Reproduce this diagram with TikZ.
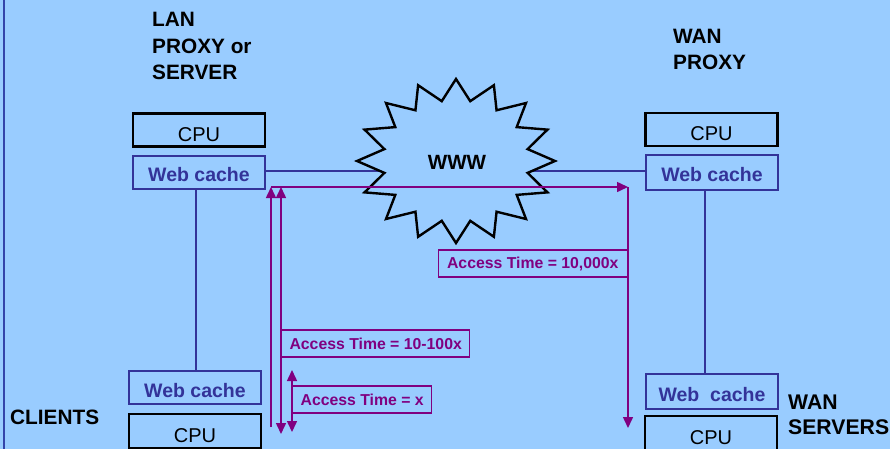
\documentclass[tikz,border=0pt]{standalone}
\usepackage{fontspec}
\setmainfont{Liberation Sans}
\usetikzlibrary{arrows.meta}
\definecolor{bg}{HTML}{99CCFF}
\definecolor{navy}{HTML}{333399}
\definecolor{purp}{HTML}{800080}
\definecolor{edgeblue}{HTML}{3344AA}
\begin{document}
\begin{tikzpicture}[x=1pt,y=-1pt,
  cpubox/.style={draw=black, line width=2.6pt, minimum width=132pt, minimum height=33pt, inner sep=0pt,
    text height=22.3pt, text depth=0pt, font=\fontsize{20}{22}\selectfont},
  cachebox/.style={draw=navy, line width=2.6pt, text=navy, minimum width=132pt, minimum height=34pt, inner sep=0pt,
    text height=19pt, text depth=0pt, font=\bfseries\fontsize{19.5}{21}\selectfont},
  title/.style={font=\bfseries\fontsize{20.8}{26.5}\selectfont, align=left, anchor=base west, inner sep=0pt},
  timebox/.style={draw=purp, line width=1.4pt, text=purp, inner sep=0pt, minimum height=27pt,
    font=\bfseries\fontsize{15.8}{17}\selectfont},
  link/.style={draw=navy, line width=2.6pt},
  parrow/.style={draw=purp, line width=1.5pt, -{Triangle[length=11pt,width=10pt]}},
  pboth/.style={draw=purp, line width=1.5pt, {Triangle[length=11pt,width=10pt]}-{Triangle[length=11pt,width=10pt]}},
]
\fill[bg] (0,0) rectangle (890,449);
\useasboundingbox (0,0) rectangle (890,449);
\draw[edgeblue, line width=2pt] (4,0) -- (4,449);

% titles (anchor = baseline of the last line)
\node[title] (lan) at (152,80) {LAN\\PROXY or\\SERVER};
\node[title] (wan) at (673,70) {WAN\\PROXY};
\node[title] (clients) at (10,424) {CLIENTS};
\node[title, font=\bfseries\fontsize{21.2}{25}\selectfont] (servers) at (788,434) {WAN\\SERVERS};

% boxes
\node[cpubox] (lancpu) at (199,130) {CPU};
\node[cachebox, minimum height=33pt] (lancache) at (199,172.5) {Web cache};
\node[cachebox, minimum height=33pt] (clicache) at (195,387.5) {Web cache};
\node[cpubox, minimum height=34pt] (clicpu) at (195,431) {CPU};
\node[cpubox] (wancpu) at (711.5,129.5) {CPU};
\node[cachebox, minimum height=35pt] (wancache) at (712,172.5) {Web cache};
\node[cachebox, minimum height=35pt] (srvcache) at (712,391.5) {Web\ \ cache};
\node[cpubox, minimum height=34pt] (srvcpu) at (711,433) {CPU};

% helper coordinates
\coordinate (lx) at (196,0);
\coordinate (rx) at (705,0);
\coordinate (ly) at (0,171);

% blue links
\draw[link] (lancache.south -| lx) -- (clicache.north -| lx);
\draw[link] (wancache.south -| rx) -- (srvcache.north -| rx);
\draw[link] (lancache.east |- ly) -- (wancache.west |- ly);

% WWW star
\coordinate (wc) at (456,161);
\fill[bg] (wc) +(0:99 and 82)
  \foreach \k in {0,...,15} { -- +({\k*22.5+11.25}:73 and 61) -- +({(\k+1)*22.5}:99 and 82) } -- cycle;
\draw[line width=2.4pt, line join=miter] (wc) +(0:99 and 82)
  \foreach \k in {0,...,15} { -- +({\k*22.5+11.25}:73 and 61) -- +({(\k+1)*22.5}:99 and 82) } -- cycle;
\node[font=\bfseries\fontsize{20.6}{22}\selectfont, inner sep=0pt] (www) at (457,162) {WWW};

% purple access-time arrows
\coordinate (p1) at (271,427);
\coordinate (p2) at (271,187);
\coordinate (p3) at (628,187);
\coordinate (p4) at (628,428);
\coordinate (q1) at (281,187);
\coordinate (q2) at (281,434);
\coordinate (r1) at (292,370);
\coordinate (r2) at (292,432);

\draw[parrow] (p1) -- (p2);
\draw[parrow] (p2) -- (p3);
\draw[parrow] (p3) -- (p4);
\draw[pboth] (q1) -- (q2);
\draw[pboth] (r1) -- (r2);

\node[timebox, minimum width=188pt, anchor=west] (t2) at (281,343.5) {Access Time = 10-100x};
\node[timebox, minimum width=139pt, anchor=west] (t1) at (292,399.5) {Access Time = x};
\node[timebox, minimum width=189pt, anchor=east] (t3) at (628,263.5) {Access Time = 10,000x};
\end{tikzpicture}
\end{document}
